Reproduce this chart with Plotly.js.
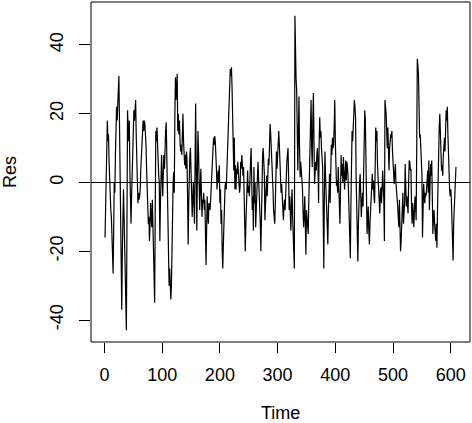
<!DOCTYPE html>
<html>
<head>
<meta charset="utf-8">
<script src="https://cdn.plot.ly/plotly-3.0.1.min.js"></script>
<style>
  html, body { margin: 0; padding: 0; background: #fff; }
  #plot { width: 472px; height: 423px; }
</style>
</head>
<body>
<div id="plot"></div>
<script>
// residuals, in time order, split into chunks
const res01 = [-16,-5,8,14,18,12,14,6,-2,-4,-8,-10,-18,-24,-26.5,-14,0,-3,8,14,
  22,18,22,26,31,18,2,-16,-30,-37,-20,-4,-2,-10,-22,-30,-38,-43,-12,21,
  16,12,18,4,-6,-12,-4,1.5,8,14,21,18,22,24,14,8,2,-6,-3,-5];
const res02 = [-4,-2,4,8,12,16,18,15,18,17,14,11,4,-4,-8,-12,-10,-17,-12,-6,
  -10,-13,-5,-12,-22,-30,-35,-8,15,12,16,10,6,2,0,-17,-6,3,8,2,
  -4,3,8,4,12,15,17.5,6,-4,-14,-22,-30,-25,-32,-34,-30,-16,-4,0,3,
  -3,20,30.6,24,28,31.6,15,20,14,18,12,9,11,8,14,20,12,8,5,8,4,9,7];
const res03 = [-4,-18,-6,5,8,10,6,-3,-10,-4,0,-6,-12,6,23,4,-14,2,15,9,
  2,-8,-2,4,-3,-10,-5,-6,-3,-8,-5,-16,-24,-14,-4,-9,-12,-6,-7,-8,
  -5,-2,1.5,6,10,13,11,13.5,12,9,4,-2,1,3.5,0,5,-6,-2,-12,-8,
  -20,-25,-18,-10,-3,-1,0,-2,3,8,12,18,22,26,33,31,33.5,28,22,14,3.5,13,-2];
const res04 = [5,-2,4,2.5,6,3,0.6,-3,-1.4,6,4,8,6,2,4.5,-4,-10,-20,-12,-5,
  -2,3.5,-3,-1,-4,0,4,10,2,-8,-4,-14,4.5,-6,0,-13,-8,-3,4,6,
  1.5,-2,-6,-12,-20,-6,5,8,10,6,2.5,-11,-4,-1.4,2,-4,3,7,5,12,
  17,14,11,8,4.5,-2,-8,-10,-12];
const res05 = [-6,0,9,4,10,12,15,11,6,2,-3,-0.4,-6,-8,-11,-7,-5,-8,-2,2,
  6,8,10,2,-8,-4,-10,-14,-6,-2,-10,-18,-22,-25,48.5,35,30,27,12,3.5,
  14,25,10,1.5,6,3.5,0,-1.4,-8,-13,-10,-4,-12,-21,-8,-10,-12,-15,-6,3.5,
  14,20,24,10,4.5,18,26,12,-0.4,3,6,3.5,8,10,4,-6,12,19,13,15,
  10,6,4.5,-10,-25];
const res06 = [-4,9,2,-4,-10,-15,-18,-8,-2,2.5,-6,4,11,8,13,10,11,16,24,12,
  3.5,-1,0.6,-3,4.5,0,-6,-12,-2,8,2,5.4,0,7.4,3,-2,2,6.4,0.6,6,
  4.5,2,-4,-12,-16,-22,-6,8,15,12,18,20,24,22,19,1.5,-10,-18,-23,-12,
  -2,0,2.5,-4,-10,-6,-3,-7,4,14,21];
const res07 = [18,1.5,-8,-15,-10,-7,-14,-18,-12,-8,-6,-4,2.5,-2,0.6,-4,-6,4,16,12,
  15,5.4,2,1.5,-4,-9,-3,-1.4,-6,-2,3.5,-1,-5,-17,24,22,20,14,10,16,
  8,3.5,10,12,14,13,15,9,5.4,2,-0.4,3,5.4,0,-4,-5,-7,-10,-13,-5,
  -12,-20,-17,-10,-6,-3,-12,-8,-6,5.4,-2,-7,-4,-6,-9,0,6.4];
const res08 = [6,3.5,4,-7,-12,-6,-10,-13,-8,-4,-7,-11,10,36,34,31.6,20,13,14,11,
  8,2.5,-16,-6,-0.4,-4,-6,-3,-4,-2,1,3.5,-3,6.4,-8,0,5.4,2,6.4,-4,
  -15,-10,-8,-12,-14,-17,-12,-19,-8,3.5,12,16,20,14,11,3.5,5,2,7.4,10,
  13,9,15,21,18,22,14,6.4,2,-2,-4,-2,-5,-10,-14,-22.7,-12,-8,-3,-1.4,4.5];

const xTicks = [0, 100, 200, 300, 400, 500, 600];
const yTicks = [-40, -20, 0, 20, 40];

const res = [].concat(res01, res02, res03, res04, res05, res06, res07, res08);
const time = res.map((v, i) => i + 1);

const font = { family: 'Liberation Sans, Arial, Helvetica, sans-serif', size: 18, color: '#000' };

const trace = {
    x: time, y: res, type: 'scatter', mode: 'lines',
    line: { color: '#000', width: 1.2 }, hoverinfo: 'skip'
};

const layout = {
    width: 472, height: 423,
    margin: { l: 91, r: 2, t: 2, b: 81, pad: 0 },
    paper_bgcolor: '#fff', plot_bgcolor: '#fff',
    showlegend: false,
    font: font,
    xaxis: {
        range: [-23.3, 633.3], tickvals: xTicks, ticktext: xTicks.map(String),
        ticks: 'outside', ticklen: 10, tickwidth: 1, tickcolor: '#000',
        showgrid: false, zeroline: false, showline: false,
        ticklabelstandoff: 6, tickfont: font
    },
    yaxis: {
        range: [-46.4, 52.5], tickvals: yTicks, ticktext: yTicks.map(String),
        tickangle: -90,
        ticks: 'outside', ticklen: 11, tickwidth: 1, tickcolor: '#000',
        showgrid: false, zeroline: false, showline: false,
        ticklabelstandoff: 9, tickfont: font
    },
    shapes: [
        // the box round the plot region
        { type: 'rect', xref: 'paper', yref: 'paper', x0: 0, x1: 1, y0: 0, y1: 1,
          line: { color: '#000', width: 1 }, fillcolor: 'rgba(0,0,0,0)' },
        // abline(h = 0)
        { type: 'line', xref: 'paper', yref: 'y', x0: 0, x1: 1, y0: 0, y1: 0,
          line: { color: '#000', width: 1 } }
    ],
    annotations: [
        { text: 'Time', xref: 'paper', yref: 'paper', x: 0.5, y: 0,
          xanchor: 'center', yanchor: 'middle', yshift: -71, showarrow: false, font: font },
        { text: 'Res', xref: 'paper', yref: 'paper', x: 0, y: 0.5, textangle: -90,
          xanchor: 'center', yanchor: 'middle', xshift: -81, yshift: 0, showarrow: false, font: font }
    ]
};

Plotly.newPlot('plot', [trace], layout, { displayModeBar: false, staticPlot: true });
</script>
</body>
</html>
